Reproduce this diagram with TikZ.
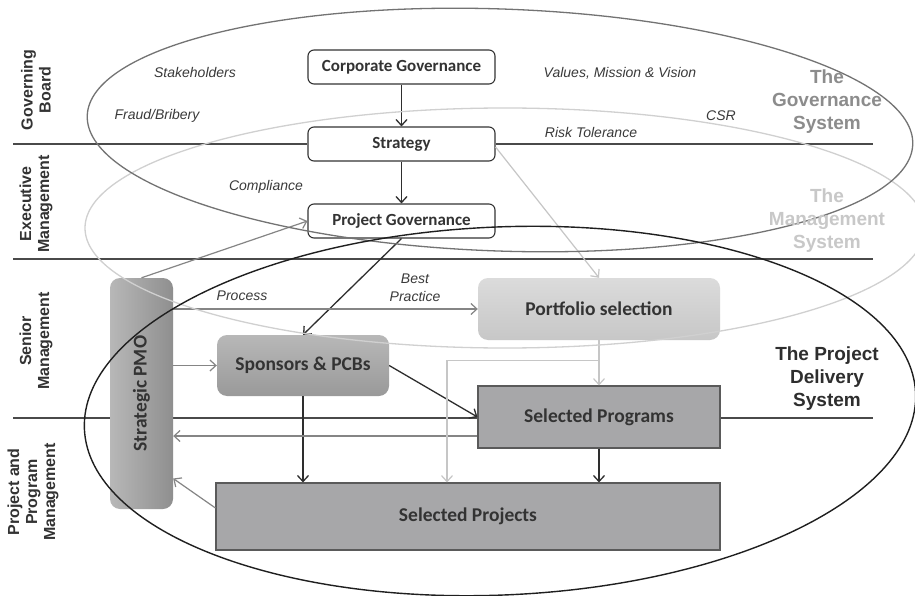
\documentclass[tikz,border=0pt]{standalone}
\usepackage{fontspec}
\setmainfont{Liberation Sans}
\newfontfamily\boxfont{Carlito}
\usetikzlibrary{arrows.meta,calc}

\definecolor{ink}{HTML}{333333}
\definecolor{labelink}{HTML}{3A3A3A}
\definecolor{rulegray}{HTML}{4A4A4A}
\definecolor{midgray}{HTML}{858585}
\definecolor{paleline}{HTML}{C6C6C6}
\definecolor{govline}{HTML}{737373}
\definecolor{mgmtline}{HTML}{D0D0D0}
\definecolor{govtext}{HTML}{8C8C8C}
\definecolor{mgmttext}{HTML}{C8C8C8}
\definecolor{darkfill}{HTML}{A7A7A9}
\definecolor{boxedge}{HTML}{5A5A5A}

\tikzset{
  hline/.style={rulegray, line width=1.3pt},
  topbox/.style={draw=ink, fill=white, line width=1.1pt, rounded corners=6pt,
    minimum width=187pt, minimum height=34pt, inner sep=0pt, text=ink,
    font=\boxfont\bfseries\fontsize{17}{20}\selectfont},
  softbox/.style={rounded corners=10pt, inner sep=0pt, text=ink,
    font=\boxfont\bfseries\fontsize{19.5}{23}\selectfont},
  squarebox/.style={draw=boxedge, fill=darkfill, line width=1.1pt, inner sep=0pt, text=ink,
    font=\boxfont\bfseries\fontsize{19.5}{23}\selectfont},
  sidelabel/.style={rotate=90, align=center, text=ink,
    font=\bfseries\fontsize{16}{18}\selectfont},
  remark/.style={text=labelink, align=center, font=\itshape\fontsize{14}{18}\selectfont},
  syslabel/.style={align=center, font=\bfseries\fontsize{19}{23}\selectfont},
  tip/.style={-{Straight Barb[length=6pt,width=11pt]}},
  darkarrow/.style={tip, draw=ink!90!black, line width=1.3pt},
  grayarrow/.style={tip, draw=midgray, line width=1.2pt},
  palearrow/.style={tip, draw=paleline, line width=1.2pt},
}

\begin{document}
\begin{tikzpicture}[x=1pt, y=-1pt]
\fill[white] (0,0) rectangle (915,596);
\useasboundingbox (0,0) rectangle (915,596);

% layer boundaries
\draw[hline] (13,259) -- (873,259);
\draw[hline] (13,418) -- (873,418);

% layer names
\node[sidelabel] (lgb) at (36,90) {Governing\\Board};
\node[sidelabel] (lem) at (36,204) {Executive\\Management};
\node[sidelabel] (lsm) at (36,341) {Senior\\Management};
\node[sidelabel] (lpm) at (33,492) {Project and\\Program\\Management};

% governance chain
\node[topbox] (corp) at (401.5,67) {Corporate Governance};
\node[topbox] (strat) at (401.5,144) {Strategy};
\node[topbox] (pg) at (401.5,221) {Project Governance};
\draw[hline] (13,144) -- (strat.west);
\draw[hline] (strat.east) -- (873,144);

% delivery boxes
\node[softbox, minimum width=242pt, minimum height=62pt,
      top color=black!14, bottom color=black!22] (port) at (599,309) {Portfolio selection};
\node[softbox, minimum width=172pt, minimum height=61pt,
      top color=black!28, bottom color=black!40] (spon) at (303,365.5) {Sponsors \& PCBs};
\node[softbox, minimum width=63pt, minimum height=231pt,
      left color=black!28, right color=black!44] (pmo) at (141.5,393.5) {\rotatebox{90}{Strategic PMO}};
\node[squarebox, minimum width=242pt, minimum height=62pt] (prog) at (599,417) {Selected Programs};
\node[squarebox, minimum width=504pt, minimum height=67pt] (proj) at (468,516.5) {Selected Projects};

% remarks
\node[remark] (rsh) at (195,73) {Stakeholders};
\node[remark] (rfb) at (157,116) {Fraud/Bribery};
\node[remark] (rco) at (266,187) {Compliance};
\node[remark] (rvm) at (620,73) {Values, Mission \& Vision};
\node[remark] (rcsr) at (721,116) {CSR};
\node[remark] (rrt) at (591,132) {Risk Tolerance};
\node[remark] (rpr) at (242,296) {Process};
\node[remark] (rbp) at (415,288) {Best\\Practice};

% connectors
\draw[darkarrow] (corp) -- (strat);
\draw[darkarrow] (strat) -- (pg);
\draw[darkarrow] (pg.south) -- (spon.north);
\draw[darkarrow] (spon.east) -- (prog.west);
\draw[darkarrow] (spon.south) -- (spon.south |- proj.north);
\draw[darkarrow] (prog.south) -- (prog.south |- proj.north);

\draw[grayarrow] (pmo.north) -- (pg.west);
\draw[grayarrow] (pmo.east |- port.west) -- (port.west);
\draw[grayarrow] (pmo.east |- spon.west) -- (spon.west);
\draw[grayarrow] ([yshift=-19pt]prog.west) -- ([yshift=-19pt]prog.west -| pmo.east);
\draw[grayarrow] ([yshift=8.5pt]proj.west) -- ([yshift=-85pt]pmo.east);

\draw[palearrow] ([yshift=-3pt]strat.east) -- (port.north);
\draw[palearrow] (port.south) -- (prog.north);
\coordinate (fork) at ($(port.south)!0.457!(prog.north)$);
\draw[palearrow] (fork) -| ([xshift=-21pt]proj.north);

% system outlines
\draw[mgmtline, line width=1.3pt] (505,228) ellipse [x radius=420pt, y radius=120pt];
\draw[govline, line width=1.3pt, rotate around={-2:(500,130)}] (500,130) ellipse [x radius=413pt, y radius=121pt];
\draw[black!88, line width=1.4pt, rotate around={2.5:(500,411)}] (500,411) ellipse [x radius=416pt, y radius=184pt];

% system names
\node[syslabel, text=govtext] (sgov) at (827,102) {The\\Governance\\System};
\node[syslabel, text=mgmttext] (smgmt) at (827,221) {The\\Management\\System};
\node[syslabel, text=ink!90!black] (sdel) at (827,379) {The Project\\Delivery\\System};
\end{tikzpicture}
\end{document}
